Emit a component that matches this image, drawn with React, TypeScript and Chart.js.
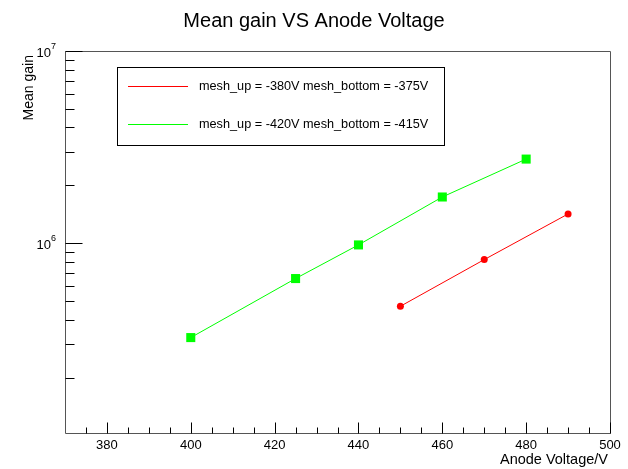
import React, { useEffect, useRef } from "react";
import { Chart, registerables } from "chart.js";

Chart.register(...registerables);

const chartTitle = "Mean gain VS Anode Voltage";
const xAxisTitle = "Anode Voltage/V";
const yAxisTitle = "Mean gain";

const redLabel = "mesh_up = -380V mesh_bottom = -375V";
const redVoltages = [450, 470, 490];
const redGains = [4.7e5, 8.22e5, 1.42e6];

const greenLabel = "mesh_up = -420V mesh_bottom = -415V";
const greenVoltages = [400, 425, 440, 460, 480];
const greenGains = [3.23e5, 6.55e5, 9.8e5, 1.74e6, 2.74e6];

const xMajorTicks = [380, 400, 420, 440, 460, 480, 500];
const xMinorTicks = [375, 385, 390, 395, 405, 410, 415, 425, 430, 435, 445, 450, 455, 465, 470, 475, 485, 490, 495];
const yMajorTicks = [1e6, 1e7];
const yMajorExponents = ["6", "7"];
const yMinorTicks = [2e5, 3e5, 4e5, 5e5, 6e5, 7e5, 8e5, 9e5, 2e6, 3e6, 4e6, 5e6, 6e6, 7e6, 8e6, 9e6];

const FONT = "'Liberation Sans', Arial, Helvetica, sans-serif";

const rootStylePlugin = {
  id: "rootStyle",
  afterDraw(chart: any) {
    const ctx = chart.ctx as CanvasRenderingContext2D;
    const area = chart.chartArea;
    const xs = chart.scales.x;
    const ys = chart.scales.y;
    const L = Math.round(area.left) + 0.5;
    const R = Math.round(area.right) + 0.5;
    const T = Math.round(area.top) + 0.5;
    const B = Math.round(area.bottom) + 0.5;
    ctx.save();

    // frame
    ctx.strokeStyle = "#555";
    ctx.lineWidth = 1;
    ctx.beginPath();
    ctx.rect(L, T, R - L, B - T);
    ctx.stroke();

    // x ticks (inward)
    ctx.strokeStyle = "#000";
    ctx.beginPath();
    xMajorTicks.forEach((v) => {
      const px = Math.round(xs.getPixelForValue(v)) + 0.5;
      ctx.moveTo(px, B);
      ctx.lineTo(px, B - 11);
    });
    xMinorTicks.forEach((v) => {
      const px = Math.round(xs.getPixelForValue(v)) + 0.5;
      ctx.moveTo(px, B);
      ctx.lineTo(px, B - 6);
    });
    // y ticks (inward)
    yMajorTicks.forEach((v) => {
      const py = Math.round(ys.getPixelForValue(v)) + 0.5;
      ctx.moveTo(L, py);
      ctx.lineTo(L + 17, py);
    });
    yMinorTicks.forEach((v) => {
      const py = Math.round(ys.getPixelForValue(v)) + 0.5;
      ctx.moveTo(L, py);
      ctx.lineTo(L + 9, py);
    });
    ctx.stroke();

    // x tick labels
    ctx.fillStyle = "#000";
    ctx.font = `13px ${FONT}`;
    ctx.textAlign = "center";
    ctx.textBaseline = "alphabetic";
    xMajorTicks.forEach((v) => {
      const px = xs.getPixelForValue(v);
      ctx.fillText(String(v), px, area.bottom + 16);
    });

    // y tick labels 10^n
    yMajorTicks.forEach((v, i) => {
      const py = ys.getPixelForValue(v);
      ctx.font = `9px ${FONT}`;
      const expW = ctx.measureText(yMajorExponents[i]).width;
      const right = area.left - 9;
      ctx.textAlign = "right";
      ctx.fillText(yMajorExponents[i], right, py - 2);
      ctx.font = `13px ${FONT}`;
      ctx.fillText("10", right - expW, py + 6);
    });

    // titles
    ctx.font = `20px ${FONT}`;
    ctx.textAlign = "center";
    ctx.fillText(chartTitle, chart.width / 2, 27);

    ctx.font = `14.5px ${FONT}`;
    ctx.textAlign = "right";
    ctx.fillText(xAxisTitle, area.right - 2, area.bottom + 31);

    ctx.save();
    ctx.font = `14px ${FONT}`;
    ctx.translate(33, area.top + 4);
    ctx.rotate(-Math.PI / 2);
    ctx.textAlign = "right";
    ctx.fillText(yAxisTitle, 0, 0);
    ctx.restore();

    // legend
    ctx.strokeStyle = "#000";
    ctx.lineWidth = 1;
    ctx.strokeRect(117.5, 67.5, 327, 78);
    const entries = [
      { label: redLabel, color: "#ff0000", y: 86.5 },
      { label: greenLabel, color: "#00ff00", y: 124.5 },
    ];
    ctx.font = `12.7px ${FONT}`;
    ctx.textAlign = "left";
    ctx.textBaseline = "middle";
    entries.forEach((e) => {
      ctx.strokeStyle = e.color;
      ctx.beginPath();
      ctx.moveTo(128, e.y);
      ctx.lineTo(188, e.y);
      ctx.stroke();
      ctx.fillStyle = "#000";
      ctx.fillText(e.label, 199, e.y);
    });

    ctx.restore();
  },
};

export default function App() {
  const canvasRef = useRef<HTMLCanvasElement | null>(null);

  useEffect(() => {
    document.body.style.margin = "0";
    const canvas = canvasRef.current;
    if (!canvas) return;
    const chart = new Chart(canvas, {
      type: "line",
      data: {
        datasets: [
          {
            label: redLabel,
            data: redVoltages.map((x, i) => ({ x, y: redGains[i] })),
            borderColor: "#ff0000",
            backgroundColor: "#ff0000",
            borderWidth: 1,
            pointStyle: "circle",
            pointRadius: 3.5,
            pointBorderWidth: 0,
            fill: false,
            tension: 0,
          },
          {
            label: greenLabel,
            data: greenVoltages.map((x, i) => ({ x, y: greenGains[i] })),
            borderColor: "#00ff00",
            backgroundColor: "#00ff00",
            borderWidth: 1,
            pointStyle: "rect",
            pointRadius: 6.4,
            pointBorderWidth: 0,
            fill: false,
            tension: 0,
          },
        ],
      },
      options: {
        responsive: false,
        animation: false,
        devicePixelRatio: 1,
        layout: { padding: { left: 65, top: 51, right: 18, bottom: 36 } },
        scales: {
          x: { type: "linear", min: 370, max: 500, display: false },
          y: { type: "logarithmic", min: 1.03e5, max: 1e7, display: false },
        },
        plugins: {
          legend: { display: false },
          tooltip: { enabled: false },
          title: { display: false },
        },
      },
      plugins: [rootStylePlugin],
    });
    return () => chart.destroy();
  }, []);

  return (
    <div style={{ width: 628, height: 469, background: "#fff" }}>
      <canvas ref={canvasRef} width={628} height={469} style={{ display: "block" }} />
    </div>
  );
}
